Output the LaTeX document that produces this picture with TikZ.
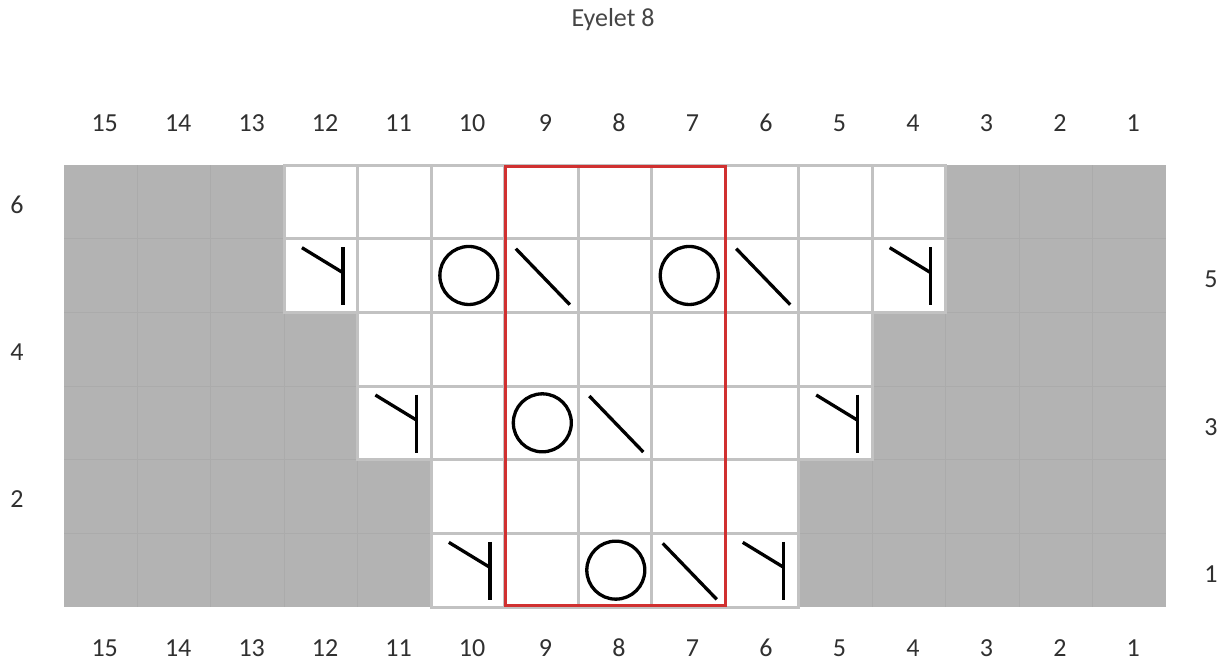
\documentclass[tikz,border=0pt]{standalone}
\usepackage{fontspec}
\setmainfont{Carlito}
\definecolor{chartgray}{HTML}{B3B3B3}
\definecolor{gridfaint}{HTML}{ABABAB}
\definecolor{gridline}{HTML}{C2C2C2}
\definecolor{repred}{HTML}{D03030}
\definecolor{numtext}{HTML}{303030}
\definecolor{titletext}{HTML}{454545}
\tikzset{
  symline/.style={line width=3.3pt, black, line cap=butt},
  cellw/.style={fill=white, draw=gridline, line width=3pt},
  numlab/.style={text=numtext, font=\fontsize{26}{29}\selectfont, inner sep=0pt, anchor=center},
  titlelab/.style={text=titletext, font=\fontsize{26}{29}\selectfont, inner sep=0pt},
  symk/.pic={\draw[symline] (58.5,8.5) -- (58.5,66.5); \draw[symline] (17.5,9) -- (58.5,34);},
  symo/.pic={\draw[symline] (37.5,36.8) circle (29);},
  symb/.pic={\draw[symline] (11,10) -- (65,66);}
}
\begin{document}
\begin{tikzpicture}[x=1pt,y=-1pt]
\fill[white] (0,0) rectangle (1220,665);
\useasboundingbox (0,0) rectangle (1220,665);
% title
\node[titlelab] (title) at (613,20) {Eyelet 8};
% gray chart area
\fill[chartgray] (64,165) rectangle (1166,607);
\foreach \i in {1,...,14} {
  \draw[gridfaint, line width=1pt] ({64+\i*73.47},165) -- ({64+\i*73.47},607);
}
\foreach \j in {1,...,5} {
  \draw[gridfaint, line width=1pt] (64,{165+\j*73.67}) -- (1166,{165+\j*73.67});
}
% white cells
\foreach \r/\a/\b in {6/4/12,5/4/12,4/5/11,3/5/11,2/6/10,1/6/10} {
  \foreach \c in {\a,...,\b} {
    \pgfmathsetmacro\xl{64+(15-\c)*73.47}
    \pgfmathsetmacro\yt{165+(6-\r)*73.67}
    \filldraw[cellw] (\xl,\yt) rectangle ++(73.47,73.67);
  }
}
% symbols
\foreach \c/\r/\s in {12/5/symk,10/5/symo,9/5/symb,7/5/symo,6/5/symb,4/5/symk,
                      11/3/symk,9/3/symo,8/3/symb,5/3/symk,
                      10/1/symk,8/1/symo,7/1/symb,6/1/symk} {
  \pgfmathsetmacro\xl{64+(15-\c)*73.47}
  \pgfmathsetmacro\yt{165+(6-\r)*73.67}
  \pic at (\xl,\yt) {\s};
}
% repeat box
\draw[repred, line width=3.2pt] (505.5,166.5) rectangle (725.5,605.5);
% column numbers
\foreach \c in {1,...,15} {
  \pgfmathsetmacro\xc{64+(15-\c+0.5)*73.47+4}
  \node[numlab] (top\c) at (\xc,123) {\c};
  \node[numlab] (bot\c) at (\xc,648) {\c};
}
% row numbers
\foreach \r in {2,4,6} {
  \pgfmathsetmacro\yc{165+(6-\r+0.5)*73.67+3}
  \node[numlab] (rowl\r) at (17,\yc) {\r};
}
\foreach \r in {1,3,5} {
  \pgfmathsetmacro\yc{165+(6-\r+0.5)*73.67+4}
  \node[numlab] (rowr\r) at (1211,\yc) {\r};
}
\end{tikzpicture}
\end{document}
